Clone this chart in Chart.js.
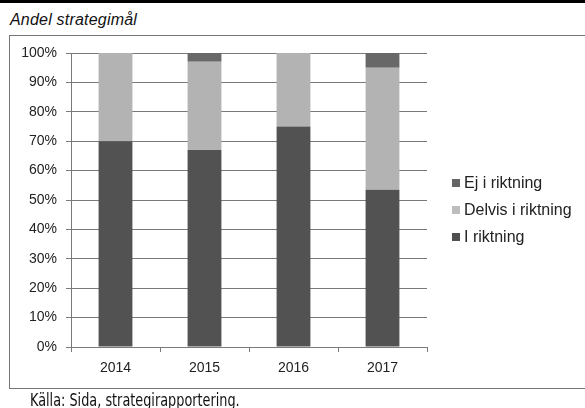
<!DOCTYPE html>
<html>
<head>
<meta charset="utf-8">
<script src="https://cdn.jsdelivr.net/npm/chart.js@4"></script>
<style>
  html, body { margin: 0; padding: 0; background: #fff; }
  body { width: 585px; height: 408px; position: relative; overflow: hidden; font-family: 'Liberation Sans', Arial, sans-serif; }
  #topbar { position: absolute; left: 0; top: 0; width: 585px; height: 3px; background: #000; }
  #title { position: absolute; left: 10px; top: 11px; font-size: 16px; font-style: italic; color: #111; letter-spacing: 0.2px; }
  #frame { position: absolute; left: 9px; top: 35px; width: 600px; height: 354px; border: 1px solid #777; box-sizing: border-box; }
  #source { position: absolute; left: 30px; top: 390px; font-family: 'Liberation Sans Narrow', 'DejaVu Sans Condensed', sans-serif; font-size: 17px; color: #111; transform: scaleX(0.84); transform-origin: 0 0; white-space: nowrap; }
  #wrap { position: absolute; left: 0; top: 0; width: 585px; height: 408px; }
  #legend { position: absolute; left: 452px; top: 175px; font-size: 16px; color: #222; }
  #legend div { height: 27px; line-height: 16px; white-space: nowrap; }
  #legend span { display: inline-block; width: 8px; height: 8px; margin-right: 4px; vertical-align: 1px; }
</style>
</head>
<body>
<div id="topbar"></div>
<div id="title">Andel strategimål</div>
<div id="frame"></div>
<div id="wrap"><canvas id="chart"></canvas></div>
<div id="legend"></div>
<div id="source">Källa: Sida, strategirapportering.</div>
<script>
// Andel strategimål per år (procent)
const years = ['2014', '2015', '2016', '2017'];
const iRiktning = [70, 67, 75, 53.5];
const delvisRiktning = [30, 30, 25, 41.5];
const ejRiktning = [0, 3, 0, 5];
const yTicks = [0, 10, 20, 30, 40, 50, 60, 70, 80, 90, 100];

const ctx = document.getElementById('chart').getContext('2d');

const chart = new Chart(ctx, {
  type: 'bar',
  data: {
    labels: years,
    datasets: [
      { label: 'I riktning', data: iRiktning, backgroundColor: '#525252', legendColor: '#4f4f4f' },
      { label: 'Delvis i riktning', data: delvisRiktning, backgroundColor: '#b3b3b3', legendColor: '#bdbdbd' },
      { label: 'Ej i riktning', data: ejRiktning, backgroundColor: '#686868', legendColor: '#666666' }
    ]
  },
  options: {
    responsive: true,
    maintainAspectRatio: false,
    animation: false,
    layout: { padding: { left: 10, top: 53, right: 158, bottom: 21 } },
    datasets: { bar: { categoryPercentage: 1, barPercentage: 0.38, borderWidth: 0 } },
    plugins: {
      legend: { display: false },
      tooltip: { enabled: false }
    },
    scales: {
      x: {
        stacked: true,
        grid: { drawOnChartArea: false, drawTicks: true, tickLength: 5, color: '#7a7a7a', offset: true },
        border: { color: '#7a7a7a' },
        ticks: { color: '#222', font: { family: "'Liberation Sans', Arial, sans-serif", size: 14 }, padding: 8 },
        afterFit: (s) => { s.height = 40; }
      },
      y: {
        stacked: true,
        min: 0,
        max: 100,
        afterBuildTicks: (s) => { s.ticks = yTicks.map(v => ({ value: v })); },
        grid: { color: '#7a7a7a', tickLength: 5 },
        border: { color: '#7a7a7a' },
        ticks: {
          color: '#222',
          font: { family: "'Liberation Sans', Arial, sans-serif", size: 14 },
          padding: 9,
          callback: (v) => v + '%'
        },
        afterFit: (s) => { s.width = 61; }
      }
    }
  }
});

// Legend, reversed like the original
const legendEl = document.getElementById('legend');
chart.data.datasets.slice().reverse().forEach(ds => {
  const row = document.createElement('div');
  row.innerHTML = `<span style="background:${ds.legendColor}"></span>${ds.label}`;
  legendEl.appendChild(row);
});
</script>
</body>
</html>
